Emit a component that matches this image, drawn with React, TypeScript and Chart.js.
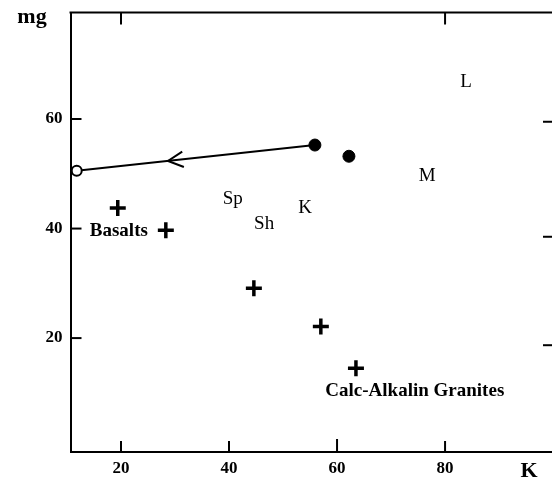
import React, { useEffect, useRef } from "react";
import { Chart, registerables } from "chart.js";

Chart.register(...registerables);

// ---- data ----
const xTickValues = [20, 40, 60, 80];
const yTickValues = [20, 40, 60];
const topTickValues = [20, 80];
const rightTickValues = [59.5, 38.5, 18.7];

const pathK = [55.9, 11.8];
const pathMg = [55.25, 50.55];
const arrowK = [28.7];
const arrowMg = [52.35];

const filledK = [55.9, 62.2];
const filledMg = [55.25, 53.2];
const openK = [11.8];
const openMg = [50.55];

const crossK = [19.4, 28.3, 44.6, 57.0, 63.5];
const crossMg = [43.75, 39.7, 29.1, 22.1, 14.5];

const labelTexts = ["Basalts", "Sp", "Sh", "K", "M", "L", "Calc-Alkalin Granites"];
const labelK = [19.6, 40.7, 46.5, 54.1, 76.7, 83.9, 74.4];
const labelMg = [39.5, 45.4, 40.8, 43.7, 49.6, 66.8, 10.3];

const xTitle = "K";
const yTitle = "mg";

const X_MIN = 10.65;
const X_MAX = 99.8;
const Y_MIN = -0.8;
const Y_MAX = 79.45;

const SERIF = "'Liberation Serif', 'Times New Roman', serif";
const boldLabels = new Set(["Basalts", "Calc-Alkalin Granites"]);

const pts = (xs: number[], ys: number[]) => xs.map((x, i) => ({ x, y: ys[i] }));

const decorPlugin = {
  id: "decor",
  afterDatasetsDraw(chart: any) {
    const { ctx, chartArea, scales } = chart;
    const xs = scales.x;
    const ys = scales.y;
    ctx.save();
    ctx.strokeStyle = "#000";
    ctx.fillStyle = "#000";
    ctx.lineWidth = 2;
    ctx.lineCap = "butt";
    // top border
    ctx.beginPath();
    ctx.moveTo(chartArea.left - 1, chartArea.top);
    ctx.lineTo(chartArea.right, chartArea.top);
    ctx.stroke();
    // inward ticks bottom
    xTickValues.forEach((v) => {
      const px = xs.getPixelForValue(v);
      const len = v === 60 ? 13 : 11;
      ctx.beginPath();
      ctx.moveTo(px, chartArea.bottom);
      ctx.lineTo(px, chartArea.bottom - len);
      ctx.stroke();
    });
    // inward ticks left
    yTickValues.forEach((v) => {
      const py = ys.getPixelForValue(v);
      ctx.beginPath();
      ctx.moveTo(chartArea.left, py);
      ctx.lineTo(chartArea.left + 11, py);
      ctx.stroke();
    });
    // top ticks
    topTickValues.forEach((v) => {
      const px = xs.getPixelForValue(v);
      ctx.beginPath();
      ctx.moveTo(px, chartArea.top);
      ctx.lineTo(px, chartArea.top + 12);
      ctx.stroke();
    });
    // right ticks
    rightTickValues.forEach((v) => {
      const py = ys.getPixelForValue(v);
      ctx.beginPath();
      ctx.moveTo(chartArea.right - 9, py);
      ctx.lineTo(chartArea.right, py);
      ctx.stroke();
    });
    // arrowhead (open V) on the path
    const x0 = xs.getPixelForValue(pathK[0]);
    const y0 = ys.getPixelForValue(pathMg[0]);
    const x1 = xs.getPixelForValue(pathK[1]);
    const y1 = ys.getPixelForValue(pathMg[1]);
    const ang = Math.atan2(y0 - y1, x0 - x1);
    arrowK.forEach((k, i) => {
      const tx = xs.getPixelForValue(k);
      const ty = ys.getPixelForValue(arrowMg[i]);
      const L = 17;
      const a = (27 * Math.PI) / 180;
      ctx.lineWidth = 2;
      ctx.beginPath();
      ctx.moveTo(tx + L * Math.cos(ang - a), ty + L * Math.sin(ang - a));
      ctx.lineTo(tx, ty);
      ctx.lineTo(tx + L * Math.cos(ang + a), ty + L * Math.sin(ang + a));
      ctx.stroke();
    });
    // text labels
    ctx.textAlign = "center";
    ctx.textBaseline = "middle";
    labelTexts.forEach((t, i) => {
      ctx.font = (boldLabels.has(t) ? "bold 19px " : "19px ") + SERIF;
      ctx.fillText(t, xs.getPixelForValue(labelK[i]), ys.getPixelForValue(labelMg[i]));
    });
    // axis titles
    ctx.font = "bold 22px " + SERIF;
    ctx.fillText(yTitle, 32, 17);
    ctx.fillText(xTitle, 529, 471);
    ctx.restore();
  },
};

const zeroPad = (s: any) => {
  s.paddingTop = 0;
  s.paddingBottom = 0;
  s.paddingLeft = 0;
  s.paddingRight = 0;
};

export default function App() {
  const ref = useRef<HTMLCanvasElement | null>(null);
  useEffect(() => {
    if (!ref.current) return;
    const chart = new Chart(ref.current, {
      type: "scatter",
      data: {
        datasets: [
          {
            data: pts(openK, openMg),
            pointRadius: 5,
            pointBackgroundColor: "#fff",
            pointBorderColor: "#000",
            pointBorderWidth: 2,
            order: 1,
          },
          {
            data: pts(filledK, filledMg),
            pointRadius: 6,
            pointBackgroundColor: "#000",
            pointBorderColor: "#000",
            pointBorderWidth: 1,
            order: 2,
          },
          {
            data: pts(crossK, crossMg),
            pointStyle: "cross",
            pointRadius: 8,
            pointBorderColor: "#000",
            pointBorderWidth: 3.5,
            order: 3,
          },
          {
            type: "line",
            data: pts(pathK, pathMg),
            borderColor: "#000",
            borderWidth: 2,
            pointRadius: 0,
            showLine: true,
            fill: false,
            order: 10,
          } as any,
        ],
      },
      options: {
        animation: false,
        responsive: false,
        maintainAspectRatio: false,
        events: [],
        layout: { autoPadding: false, padding: { top: 12.5, right: 0, left: 0, bottom: 0 } },
        plugins: { legend: { display: false }, tooltip: { enabled: false } },
        scales: {
          x: {
            type: "linear",
            min: X_MIN,
            max: X_MAX,
            grid: { display: false, drawTicks: false },
            border: { display: true, color: "#000", width: 2 },
            ticks: {
              includeBounds: false,
              padding: 6,
              color: "#000",
              font: { family: SERIF, size: 17, weight: "bold" },
            },
            afterBuildTicks: (s: any) => {
              s.ticks = xTickValues.map((v) => ({ value: v }));
            },
            afterFit: (s: any) => {
              s.height = 31;
              zeroPad(s);
            },
          },
          y: {
            type: "linear",
            min: Y_MIN,
            max: Y_MAX,
            grid: { display: false, drawTicks: false },
            border: { display: true, color: "#000", width: 2 },
            ticks: {
              includeBounds: false,
              padding: 8,
              color: "#000",
              font: { family: SERIF, size: 17, weight: "bold" },
            },
            afterBuildTicks: (s: any) => {
              s.ticks = yTickValues.map((v) => ({ value: v }));
            },
            afterFit: (s: any) => {
              s.width = 70.5;
              zeroPad(s);
            },
          },
        },
      },
      plugins: [decorPlugin],
    } as any);
    return () => chart.destroy();
  }, []);
  return (
    <div
      style={{
        position: "absolute",
        left: 0,
        top: 0,
        width: 552,
        height: 483,
        background: "#fff",
        overflow: "hidden",
      }}
    >
      <canvas ref={ref} width={552} height={483} style={{ width: 552, height: 483 }} />
    </div>
  );
}
